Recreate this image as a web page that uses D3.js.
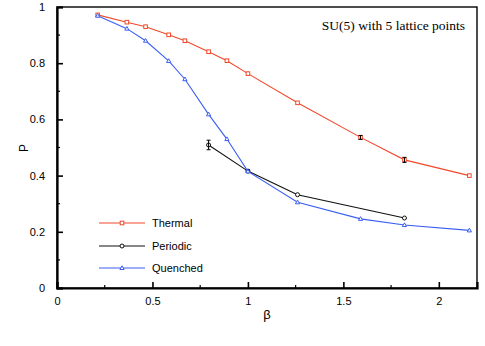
<!DOCTYPE html>
<html>
<head>
<meta charset="utf-8">
<script src="https://cdnjs.cloudflare.com/ajax/libs/d3/7.8.5/d3.min.js"></script>
<style>
  body { margin: 0; background: #fff; }
  svg { display: block; }
  .tick text { font-family: "Liberation Sans", Arial, sans-serif; font-size: 11px; }
</style>
</head>
<body>
<svg id="chart" width="485" height="346"></svg>
<script>
// data
var thermalBeta = [0.213, 0.366, 0.464, 0.585, 0.67, 0.794, 0.89, 1.0, 1.26, 1.59, 1.82, 2.16];
var thermalP    = [0.972, 0.946, 0.930, 0.901, 0.880, 0.841, 0.809, 0.763, 0.659, 0.536, 0.456, 0.400];
var thermalErr  = [0, 0, 0, 0, 0, 0, 0, 0, 0, 0.007, 0.009, 0];

var periodicBeta = [0.794, 1.0, 1.26, 1.82];
var periodicP    = [0.509, 0.416, 0.332, 0.249];
var periodicErr  = [0.017, 0.005, 0, 0];

var quenchedBeta = [0.213, 0.366, 0.464, 0.585, 0.67, 0.794, 0.89, 1.0, 1.26, 1.59, 1.82, 2.16];
var quenchedP    = [0.969, 0.923, 0.880, 0.808, 0.743, 0.618, 0.530, 0.415, 0.305, 0.246, 0.224, 0.205];

var xTicks = [0, 0.5, 1, 1.5, 2];
var yTicks = [0, 0.2, 0.4, 0.6, 0.8, 1];

var svg = d3.select("#chart");
var padL = 57, padR = 477, padT = 7, padB = 288;

var x = d3.scaleLinear().domain([0, 2.2]).range([padL, padR]);
var y = d3.scaleLinear().domain([0, 1]).range([padB, padT]);

function zip(xs, ys, es) {
  return xs.map(function(d, i) { return { x: d, y: ys[i], e: es ? es[i] : 0 }; });
}

var series = [
  { name: "Thermal",  color: "#f2482a", marker: "square",   pts: zip(thermalBeta, thermalP, thermalErr) },
  { name: "Periodic", color: "#111111", marker: "circle",   pts: zip(periodicBeta, periodicP, periodicErr) },
  { name: "Quenched", color: "#3a5ef2", marker: "triangle", pts: zip(quenchedBeta, quenchedP) }
];

// frame
svg.append("rect")
  .attr("x", padL).attr("y", padT)
  .attr("width", padR - padL).attr("height", padB - padT)
  .attr("fill", "none").attr("stroke", "#000").attr("stroke-width", 1.4);

// axes with inward ticks
var xAxis = svg.append("g").attr("transform", "translate(0," + padB + ")")
  .call(d3.axisBottom(x).tickValues(xTicks).tickSize(-6).tickPadding(9)
    .tickFormat(d3.format("")));
var yAxis = svg.append("g").attr("transform", "translate(" + padL + ",0)")
  .call(d3.axisLeft(y).tickValues(yTicks).tickSize(-6).tickPadding(12)
    .tickFormat(d3.format("")));

[xAxis, yAxis].forEach(function(a) {
  a.select(".domain").attr("stroke-width", 2.2);
  a.selectAll(".tick line").attr("stroke-width", 1.6);
});

// minor ticks
svg.append("g").selectAll("line")
  .data([0.25, 0.75, 1.25, 1.75])
  .join("line")
  .attr("x1", function(d) { return x(d); }).attr("x2", function(d) { return x(d); })
  .attr("y1", padB).attr("y2", padB - 3)
  .attr("stroke", "#000").attr("stroke-width", 1.2);
svg.append("g").selectAll("line")
  .data([0.1, 0.3, 0.5, 0.7, 0.9])
  .join("line")
  .attr("x1", padL).attr("x2", padL + 3)
  .attr("y1", function(d) { return y(d); }).attr("y2", function(d) { return y(d); })
  .attr("stroke", "#000").attr("stroke-width", 1.2);

// axis titles
svg.append("text")
  .attr("transform", "translate(28,148) rotate(-90)")
  .attr("text-anchor", "middle")
  .style("font-family", "Liberation Sans, Arial, sans-serif").style("font-size", "12px")
  .text("P");
svg.append("text")
  .attr("x", 267).attr("y", 319)
  .attr("text-anchor", "middle")
  .style("font-family", "Liberation Sans, Arial, sans-serif").style("font-size", "13px")
  .text("β");

svg.append("text")
  .attr("x", 465).attr("y", 30)
  .attr("text-anchor", "end")
  .style("font-family", "Liberation Serif, Times New Roman, serif").style("font-size", "13.5px")
  .text("SU(5) with 5 lattice points");

function drawMarker(g, type, cx, cy, color) {
  if (type === "square") {
    g.append("rect").attr("x", cx - 1.8).attr("y", cy - 1.8).attr("width", 3.6).attr("height", 3.6)
      .attr("fill", "#fff").attr("stroke", color).attr("stroke-width", 1);
  } else if (type === "circle") {
    g.append("circle").attr("cx", cx).attr("cy", cy).attr("r", 2)
      .attr("fill", "#fff").attr("stroke", color).attr("stroke-width", 1);
  } else {
    g.append("path")
      .attr("d", "M" + cx + "," + (cy - 2.2) + "L" + (cx + 2.1) + "," + (cy + 1.5) + "L" + (cx - 2.1) + "," + (cy + 1.5) + "Z")
      .attr("fill", "#fff").attr("stroke", color).attr("stroke-width", 1);
  }
}

var line = d3.line().x(function(d) { return x(d.x); }).y(function(d) { return y(d.y); });

series.forEach(function(s) {
  var g = svg.append("g");
  g.append("path").datum(s.pts).attr("d", line)
    .attr("fill", "none").attr("stroke", s.color).attr("stroke-width", 1.1);
  s.pts.forEach(function(p) {
    drawMarker(g, s.marker, x(p.x), y(p.y), s.color);
    if (p.e > 0) {
      var cx = x(p.x);
      g.append("path")
        .attr("d", "M" + (cx - 2) + "," + y(p.y + p.e) + "H" + (cx + 2) +
          "M" + cx + "," + y(p.y + p.e) + "V" + y(p.y - p.e) +
          "M" + (cx - 2) + "," + y(p.y - p.e) + "H" + (cx + 2))
        .attr("stroke", "#000").attr("stroke-width", 1).attr("fill", "none");
    }
  });
});

// legend
var legY = [223, 246, 268];
series.forEach(function(s, i) {
  var g = svg.append("g");
  g.append("line").attr("x1", 99).attr("x2", 145).attr("y1", legY[i]).attr("y2", legY[i])
    .attr("stroke", s.color).attr("stroke-width", 1.1);
  drawMarker(g, s.marker, 122, legY[i], s.color);
  g.append("text").attr("x", 152).attr("y", legY[i] + 4)
    .style("font-family", "Liberation Sans, Arial, sans-serif").style("font-size", "11px")
    .text(s.name);
});
</script>
</body>
</html>
